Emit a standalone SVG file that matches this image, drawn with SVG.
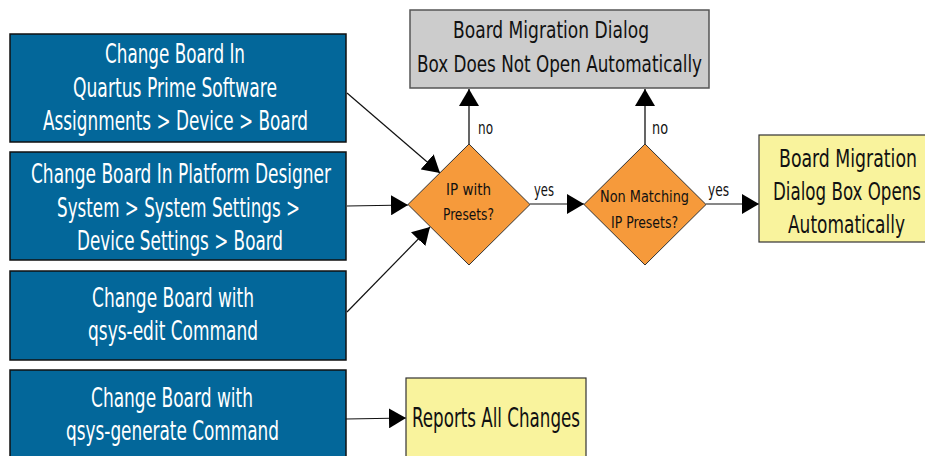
<svg xmlns="http://www.w3.org/2000/svg" width="925" height="456" viewBox="0 0 925 456">
<style>
text{font-family:"Liberation Sans Narrow","DejaVu Sans Condensed","Liberation Sans",sans-serif;}
.blue{fill:#03679a;stroke:#111;stroke-width:1.5;}
.wt{fill:#fff;font-size:26.5px;}
.gray{fill:#cccccc;stroke:#555;stroke-width:1.5;}
.yel{fill:#f9f39d;stroke:#333;stroke-width:1.2;}
.dia{fill:#f69a3b;stroke:#333;stroke-width:1;}
.bt{fill:#111;}
.lbl{fill:#111;font-size:17px;}
.conn{stroke:#111;stroke-width:1.2;fill:none;marker-end:url(#ah);}
.connv{stroke:#555;stroke-width:1.8;fill:none;marker-end:url(#ah);}
</style>
<defs>
<marker id="ah" markerUnits="userSpaceOnUse" markerWidth="17" markerHeight="20" refX="17" refY="10" orient="auto">
<path d="M0,0 L17,10 L0,20 z" fill="#000"/>
</marker>
</defs>
<rect width="925" height="456" fill="#fff"/>
<g id="connectors">
<line class="conn" x1="347" y1="93" x2="440" y2="173"/>
<line class="conn" x1="347" y1="206" x2="408" y2="205"/>
<line class="conn" x1="347" y1="312" x2="430" y2="227"/>
<line class="conn" x1="346" y1="419" x2="406" y2="418"/>
<line class="connv" x1="469" y1="144" x2="469" y2="89"/>
<line class="connv" x1="645" y1="144" x2="645" y2="89"/>
<line class="conn" x1="530" y1="204" x2="584" y2="204"/>
<line class="conn" x1="706" y1="204" x2="759" y2="204"/>
<text class="lbl" x="478" y="134" textLength="15" lengthAdjust="spacingAndGlyphs">no</text>
<text class="lbl" x="652" y="134" textLength="16" lengthAdjust="spacingAndGlyphs">no</text>
<text class="lbl" x="534" y="196" textLength="20" lengthAdjust="spacingAndGlyphs">yes</text>
<text class="lbl" x="708" y="196" textLength="21" lengthAdjust="spacingAndGlyphs">yes</text>
</g>
<g id="n-quartus">
<rect class="blue" x="10" y="34" width="336" height="108"/>
<text class="wt" x="105" y="63" textLength="140" lengthAdjust="spacingAndGlyphs">Change Board In</text>
<text class="wt" x="73" y="97" textLength="204" lengthAdjust="spacingAndGlyphs">Quartus Prime Software</text>
<text class="wt" x="43" y="130" textLength="265" lengthAdjust="spacingAndGlyphs">Assignments &gt; Device &gt; Board</text>
</g>
<g id="n-platform">
<rect class="blue" x="10" y="152" width="336" height="108"/>
<text class="wt" x="31" y="183" textLength="300" lengthAdjust="spacingAndGlyphs">Change Board In Platform Designer</text>
<text class="wt" x="57" y="217" textLength="243" lengthAdjust="spacingAndGlyphs">System &gt; System Settings &gt;</text>
<text class="wt" x="77" y="250" textLength="206" lengthAdjust="spacingAndGlyphs">Device Settings &gt; Board</text>
</g>
<g id="n-edit">
<rect class="blue" x="10" y="271" width="336" height="89"/>
<text class="wt" x="92" y="307" textLength="162" lengthAdjust="spacingAndGlyphs">Change Board with</text>
<text class="wt" x="88" y="340" textLength="170" lengthAdjust="spacingAndGlyphs">qsys-edit Command</text>
</g>
<g id="n-generate">
<rect class="blue" x="10" y="370" width="336" height="100"/>
<text class="wt" x="91" y="407" textLength="162" lengthAdjust="spacingAndGlyphs">Change Board with</text>
<text class="wt" x="66" y="440" textLength="213" lengthAdjust="spacingAndGlyphs">qsys-generate Command</text>
</g>
<g id="n-notopen">
<rect class="gray" x="410" y="10" width="299" height="78"/>
<text class="bt" x="453" y="38" font-size="23" textLength="196" lengthAdjust="spacingAndGlyphs">Board Migration Dialog</text>
<text class="bt" x="417" y="72" font-size="23" textLength="285" lengthAdjust="spacingAndGlyphs">Box Does Not Open Automatically</text>
</g>
<g id="n-ippresets">
<polygon class="dia" points="469,144 530,204.5 469,265 408,204.5"/>
<text class="bt" x="446" y="195" font-size="16.5" textLength="45" lengthAdjust="spacingAndGlyphs">IP with</text>
<text class="bt" x="443" y="220" font-size="16.5" textLength="51" lengthAdjust="spacingAndGlyphs">Presets?</text>
</g>
<g id="n-nonmatching">
<polygon class="dia" points="645,144 706,204.5 645,265 584,204.5"/>
<text class="bt" x="600" y="202" font-size="16.5" textLength="89" lengthAdjust="spacingAndGlyphs">Non Matching</text>
<text class="bt" x="611" y="228" font-size="16.5" textLength="67" lengthAdjust="spacingAndGlyphs">IP Presets?</text>
</g>
<g id="n-opens">
<rect class="yel" x="759" y="135" width="167" height="107"/>
<text class="bt" x="779" y="167" font-size="25.5" textLength="138" lengthAdjust="spacingAndGlyphs">Board Migration</text>
<text class="bt" x="773" y="200" font-size="25.5" textLength="148" lengthAdjust="spacingAndGlyphs">Dialog Box Opens</text>
<text class="bt" x="788" y="233" font-size="25.5" textLength="117" lengthAdjust="spacingAndGlyphs">Automatically</text>
</g>
<g id="n-reports">
<rect class="yel" x="406" y="378" width="180" height="90"/>
<text class="bt" x="412" y="427" font-size="26.5" textLength="168" lengthAdjust="spacingAndGlyphs">Reports All Changes</text>
</g>
</svg>
